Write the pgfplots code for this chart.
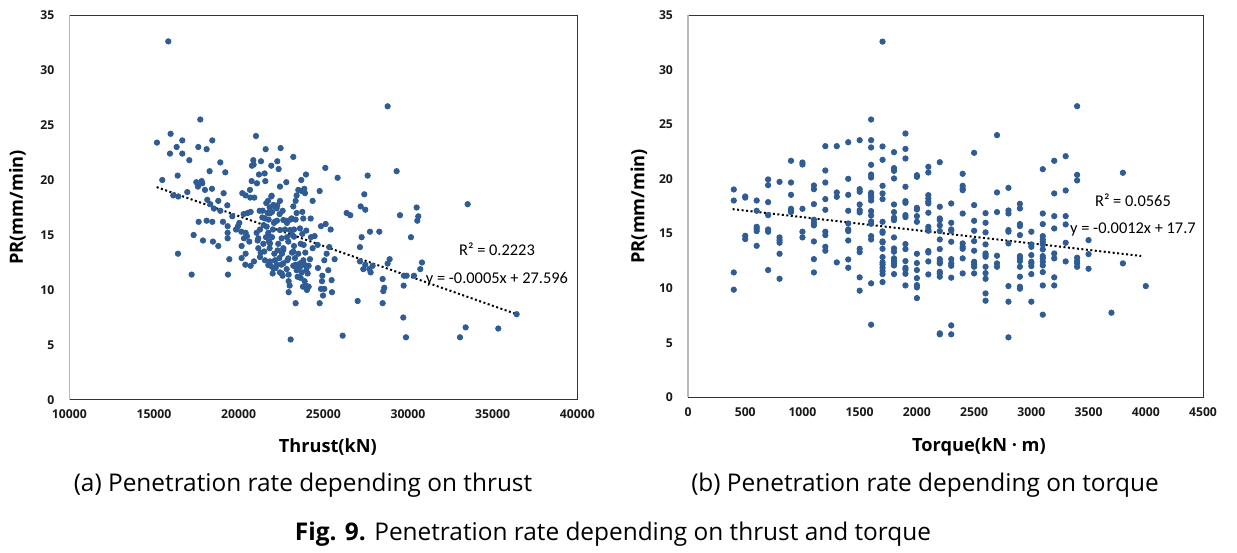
\documentclass[border=0pt]{standalone}
\usepackage{pgfplots}
\pgfplotsset{compat=1.18}
\usepackage{pgfplotstable}
\usepackage{fontspec}
\setmainfont{Open Sans}
\newfontfamily\annotfont{Carlito}
\definecolor{dot}{RGB}{47,92,148}

\pgfplotstableread{
x y
15846 32.6
17736 25.5
15984 24.2
15177 23.4
16339 23.0
16673 23.6
15945 22.4
16673 22.4
17618 23.0
18110 22.8
18445 23.6
17087 21.8
18917 21.6
18287 20.8
19213 20.7
16398 20.4
15492 20.0
17500 19.8
17815 19.9
17854 19.7
17598 19.4
18012 19.1
18425 19.2
16969 18.9
16142 18.6
16437 18.5
18150 18.2
19114 18.8
18799 18.1
18327 17.8
18543 17.4
19331 17.7
18917 17.2
19626 16.7
18110 16.3
17638 16.2
18445 16.2
19075 16.2
19350 15.8
19350 15.2
17342 15.0
17894 14.5
18484 14.4
18799 14.0
19350 14.7
16417 13.3
19449 12.8
17224 11.4
19370 11.4
19961 15.8
20158 15.3
20413 15.2
20177 14.0
20315 14.7
20177 12.9
20394 12.3
20413 13.3
20709 12.2
20906 12.6
20630 14.4
20492 14.9
20295 16.9
20531 17.0
20709 17.1
20217 18.8
20413 18.6
20669 19.1
20768 19.9
21083 19.7
20689 18.4
20925 18.4
20866 21.8
20886 21.4
20787 21.3
21024 24.0
21201 20.5
21319 21.7
21536 20.6
21575 19.9
21595 22.8
21929 21.3
22283 21.7
22362 21.0
22480 22.9
22441 19.4
22815 19.8
23228 22.1
21240 17.2
21398 16.6
21634 17.9
21733 18.1
21929 18.5
21831 17.5
21713 17.0
21969 17.1
22126 17.6
22283 17.7
22441 18.1
22598 17.2
22421 16.9
22264 16.3
22087 16.1
21772 16.4
21477 15.9
21260 15.5
21063 15.2
21122 14.5
21162 13.8
21300 13.4
21260 13.0
21457 14.2
21516 13.5
21555 12.7
21615 14.8
21752 15.2
21792 14.4
21831 13.8
21851 12.6
21890 12.2
21969 14.8
22028 15.5
22106 13.3
22146 12.7
22185 12.0
22008 11.5
22244 12.3
22303 13.6
22342 14.2
22401 12.9
22520 12.3
22441 11.6
22598 11.3
22559 13.3
22638 13.8
22736 15.5
22854 16.1
23071 16.4
22795 16.3
22854 14.8
22933 14.4
22874 12.7
22835 11.9
22953 11.4
22953 10.8
22953 9.8
23012 10.4
23071 5.5
23366 8.8
23228 12.2
23150 13.4
23326 12.9
23366 12.3
23425 11.8
23484 11.2
23524 13.3
23268 14.0
23169 15.0
23268 15.5
23366 16.4
23425 17.0
23228 17.6
23366 18.1
23425 18.6
23524 19.1
23721 19.0
23878 19.2
23700 20.0
23976 20.5
23917 18.8
23760 17.1
23819 16.5
23622 15.6
23760 15.1
23996 15.4
23662 14.2
23839 14.1
23937 13.4
23819 12.7
23622 12.1
23721 11.6
23662 11.1
23898 10.8
23799 10.3
24035 10.0
23976 10.4
24134 10.3
24075 11.5
23996 11.8
24134 12.2
24213 12.8
24370 13.8
24272 14.8
24252 16.5
24370 18.1
24784 19.0
25118 21.1
24488 14.9
24666 14.1
24685 12.0
24941 11.3
24922 10.8
24862 10.1
25059 10.1
24981 9.5
24784 8.8
25059 12.7
25197 13.3
24862 15.8
25138 16.0
19843 15.5
20040 16.1
25846 20.2
26378 17.0
26594 16.8
26142 5.85
25433 15.5
25354 13.9
25669 12.8
25492 10.9
25512 9.8
25295 11.8
27618 20.4
27421 18.7
27205 17.6
27480 17.3
27756 15.3
28307 15.3
27264 14.8
27165 13.9
27165 12.6
27362 11.9
27480 12.3
27717 11.9
27795 11.6
27913 12.2
27028 9.0
28504 11.0
28602 10.2
28543 9.9
28504 8.8
28799 12.4
28917 12.8
28799 26.7
29331 20.8
29528 16.8
30177 14.8
29764 11.3
29921 11.3
29744 10.4
29725 7.5
29882 5.7
30354 11.3
30512 17.5
30610 16.7
30551 16.3
30827 12.5
30728 11.9
33524 17.8
33406 6.6
33071 5.7
35335 6.5
36417 7.8
21949 18.57
22048 17.73
22245 17.42
21851 16.97
21418 17.21
21556 16.51
21654 15.76
22146 16.21
22638 16.36
23130 16.51
23032 15.45
22441 15.45
21753 15.0
21162 14.70
21851 14.24
22540 14.70
23268 14.85
22048 11.97
22638 12.42
22933 12.88
23622 12.42
23917 12.27
22638 13.64
23229 13.48
21753 12.27
22540 11.51
}\thrustdata

\pgfplotstableread{
x y
400 19.04
400 18.03
400 11.44
400 9.86
500 18.4
500 18.3
500 14.8
500 14.5
600 18.03
600 17.09
600 15.62
600 15.44
600 15.23
600 13.88
700 19.96
700 19.44
700 17.88
700 16.69
700 15.38
700 15.17
700 11.66
800 19.74
800 14.65
800 14.4
800 14.16
800 13.15
800 10.86
900 21.67
900 19.68
900 18.55
900 17.27
900 17.15
900 16.97
1000 21.51
1000 21.33
1000 17.27
1000 15.17
1000 14.65
1100 19.41
1100 19.07
1100 17.7
1100 16.27
1100 15.99
1100 15.75
1100 14.28
1100 12.66
1100 11.44
1200 23.01
1200 20.78
1200 19.68
1200 18.16
1200 17.18
1200 15.17
1200 14.86
1200 13.79
1200 13.43
1300 23.01
1300 18.77
1300 18.37
1300 12.36
1400 23.37
1400 20.02
1400 18.55
1400 17.09
1400 15.93
1400 15.38
1400 15.23
1400 14.37
1400 12.63
1400 11.87
1500 23.56
1500 19.07
1500 18.83
1500 17.67
1500 17.15
1500 16.94
1500 13.61
1500 13.30
1500 10.99
1500 9.77
1600 25.45
1600 23.56
1600 22.89
1600 21.3
1600 20.41
1600 20.14
1600 18.74
1600 18.52
1600 18.31
1600 18.03
1600 17.06
1600 16.66
1600 16.11
1600 15.9
1600 14.77
1600 14.46
1600 10.44
1600 6.65
1700 32.59
1700 22.98
1700 21.76
1700 19.38
1700 18.68
1700 18.16
1700 16.08
1700 15.2
1700 15.07
1700 14.28
1700 14.19
1700 13.61
1700 12.85
1700 12.36
1700 12.15
1700 11.87
1700 11.57
1700 11.29
1700 10.56
1800 22.46
1800 21.0
1800 20.75
1800 20.05
1800 17.67
1800 16.97
1800 16.45
1800 16.23
1800 14.65
1800 13.64
1800 13.34
1800 12.73
1800 12.48
1800 12.27
1800 12.08
1800 11.29
1900 24.17
1900 22.76
1900 21.88
1900 19.29
1900 17.97
1900 17.82
1900 16.69
1900 16.51
1900 14.04
1900 13.58
1900 12.48
1900 11.87
1900 11.72
1900 11.32
1900 10.25
2000 20.35
2000 20.2
2000 17.36
2000 17.21
2000 16.6
2000 16.08
2000 13.15
2000 12.3
2000 11.66
2000 10.92
2000 10.28
2000 10.07
2000 9.09
2100 21.12
2100 20.6
2100 18.52
2100 18.22
2100 17.94
2100 17.76
2100 16.91
2100 15.62
2100 15.38
2100 15.26
2100 13.4
2100 13.27
2100 12.45
2100 11.26
2200 21.54
2200 17.46
2200 16.39
2200 16.23
2200 15.75
2200 15.23
2200 14.46
2200 13.58
2200 12.66
2200 12.42
2200 12.27
2200 11.5
2200 11.35
2200 11.05
2200 5.86
2200 5.77
2300 17.76
2300 15.99
2300 15.38
2300 15.26
2300 14.25
2300 12.66
2300 12.27
2300 12.05
2300 10.96
2300 6.59
2300 5.77
2400 20.48
2400 19.38
2400 19.13
2400 18.98
2400 16.84
2400 14.1
2400 13.79
2400 13.61
2400 12.73
2400 11.35
2500 22.4
2500 17.61
2500 16.17
2500 15.26
2500 14.31
2500 13.43
2500 12.42
2500 12.18
2500 11.96
2500 11.35
2600 16.87
2600 15.99
2600 15.11
2600 14.01
2600 13.18
2600 13.03
2600 12.88
2600 11.96
2600 11.38
2600 10.86
2600 9.52
2600 8.85
2700 24.02
2700 18.77
2700 16.97
2700 12.97
2700 12.27
2700 11.96
2800 19.19
2800 17.12
2800 16.84
2800 15.32
2800 15.17
2800 14.1
2800 10.19
2800 8.76
2800 5.49
2900 17.73
2900 17.3
2900 15.87
2900 15.69
2900 14.86
2900 12.94
2900 12.73
2900 12.48
2900 11.96
2900 11.05
2900 10.13
2900 9.95
3000 15.17
3000 14.01
3000 13.79
3000 13.03
3000 12.42
3000 12.27
3000 12.02
3000 11.29
3000 8.76
3100 20.9
3100 16.84
3100 15.87
3100 14.77
3100 14.46
3100 14.25
3100 14.01
3100 13.55
3100 12.94
3100 12.73
3100 12.42
3100 12.08
3100 11.47
3100 10.25
3100 7.57
3200 21.67
3200 18.68
3200 16.6
3200 15.47
3200 13.18
3200 12.73
3200 10.99
3200 10.25
3300 22.09
3300 18.95
3300 16.6
3300 15.84
3300 14.16
3300 12.45
3400 26.67
3400 20.38
3400 19.87
3400 12.79
3400 12.48
3400 12.27
3400 11.96
3500 14.4
3500 13.12
3500 11.78
3700 7.75
3800 20.57
3800 12.27
4000 10.19
}\torquedata

\pgfplotsset{
  myax/.style={
    scale only axis, anchor=south west,
    axis line style={black!80, line width=0.5pt},
    major tick length=0pt, tick style={draw=none},
    ymin=0, ymax=35, ytick={0,5,...,35},
    scaled x ticks=false, scaled y ticks=false,
    /pgf/number format/assume math mode=true,
    /pgf/number format/1000 sep={},
    tick label style={font=\bfseries\fontsize{6.1}{7}\selectfont, text=black!90},
    yticklabel style={xshift=-4pt},
    xticklabel style={yshift=-1.5pt},
    label style={font=\bfseries\fontsize{9.1}{10}\selectfont},
    clip=false,
  },
  dots/.style={only marks, color=dot, mark=*, mark size=1.35pt, mark options={draw=none, fill=dot}},
  trend/.style={no marks, black, line width=1pt, dash pattern=on 1pt off 1.25pt},
}
\tikzset{annotstyle/.style={font=\annotfont\fontsize{8.2}{9}\selectfont, inner sep=0pt}}

\begin{document}
\begin{tikzpicture}
\useasboundingbox (0pt,0pt) rectangle (618.5pt,276pt);
\begin{axis}[myax, at={(34.65pt,76pt)}, width=254pt, height=192.5pt,
  xmin=10000, xmax=40000, xtick={10000,15000,20000,25000,30000,35000,40000},
  xlabel={Thrust(kN)}, ylabel={PR(mm/min)},
  xlabel style={at={(axis description cs:0.509,0)}, anchor=center, yshift=-23.5pt},
  ylabel style={at={(axis description cs:0,0.5)}, anchor=center, yshift=26pt}]
  \addplot[dots] table {\thrustdata};
  \addplot[trend] coordinates {(15160,19.35) (36420,7.8)};
  \draw[gray!55, line width=0.6pt] (rel axis cs:0,0) -- (rel axis cs:0,1);
  \node[annotstyle] at (axis cs:35257,13.73) {R² = 0.2223};
  \node[annotstyle] at (axis cs:35257,11.0) {y = -0.0005x + 27.596};
\end{axis}
\begin{axis}[myax, at={(344pt,77.35pt)}, width=257.5pt, height=191pt,
  xmin=0, xmax=4500, xtick={0,500,1000,1500,2000,2500,3000,3500,4000,4500},
  xlabel={Torque(kN · m)}, ylabel={PR(mm/min)},
  xlabel style={at={(axis description cs:0.565,0)}, anchor=center, yshift=-24.5pt},
  ylabel style={at={(axis description cs:0,0.5)}, anchor=center, yshift=24.5pt}]
  \addplot[dots] table {\torquedata};
  \addplot[trend] coordinates {(390,17.24) (3960,12.95)};
  \draw[gray!55, line width=0.6pt] (rel axis cs:0,0) -- (rel axis cs:0,1);
  \node[annotstyle] at (axis cs:3888,18.07) {R² = 0.0565};
  \node[annotstyle] at (axis cs:3888,15.41) {y = -0.0012x + 17.7};
\end{axis}
\node[font=\fontsize{12.2}{14}\selectfont] at (151.5pt,33.5pt) {(a) Penetration rate depending on thrust};
\node[font=\fontsize{12.2}{14}\selectfont] at (462.5pt,33.5pt) {(b) Penetration rate depending on torque};
\node[font=\fontsize{12.2}{14}\selectfont] at (306.5pt,9pt) {\textbf{Fig. 9.} Penetration rate depending on thrust and torque};
\end{tikzpicture}
\end{document}
